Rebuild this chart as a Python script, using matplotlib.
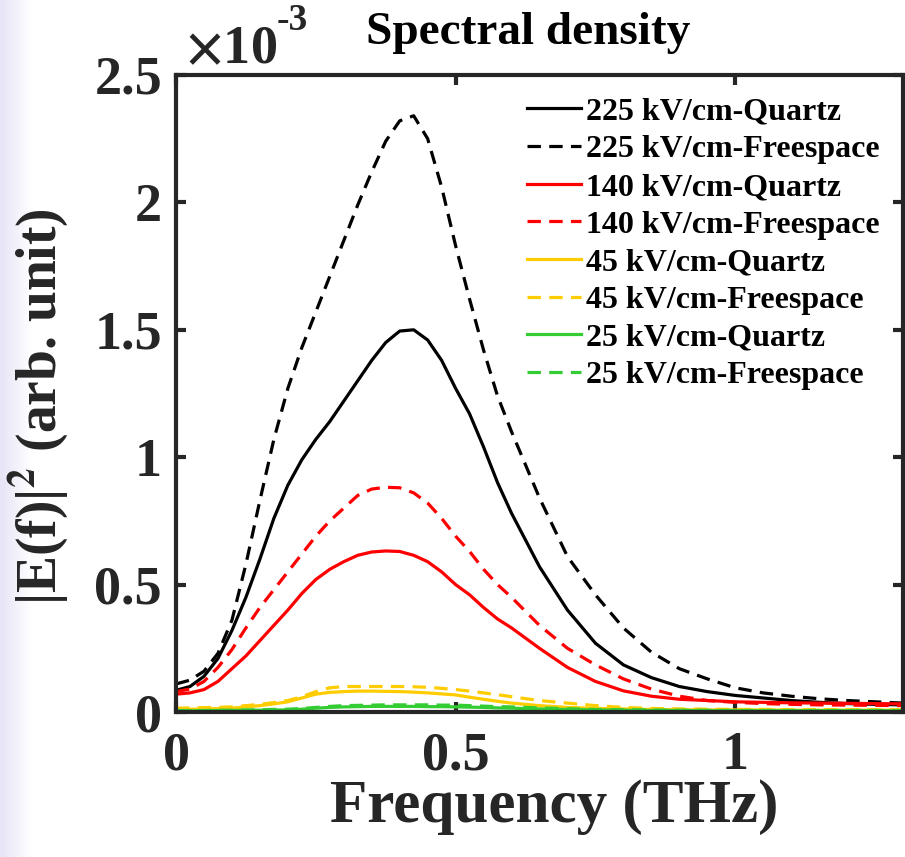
import numpy as np
import matplotlib
matplotlib.use("Agg")
import matplotlib.pyplot as plt

plt.rcParams['font.family'] = ['Liberation Serif', 'DejaVu Serif']
plt.rcParams['font.weight'] = 'bold'
plt.rcParams['mathtext.fontset'] = 'stix'

# frequency grid (THz) and spectral density (x1e-3, arb. unit)
freq = [0, 0.025, 0.05, 0.075, 0.1, 0.125, 0.15, 0.175, 0.2, 0.225, 0.25, 0.275,
        0.3, 0.325, 0.35, 0.375, 0.4, 0.425, 0.45, 0.475, 0.5, 0.525, 0.55, 0.575,
        0.6, 0.65, 0.7, 0.75, 0.8, 0.85, 0.9, 0.95, 1.0, 1.05, 1.1, 1.15, 1.2, 1.25, 1.3]

q225 = [0.085, 0.10, 0.14, 0.21, 0.32, 0.45, 0.60, 0.76, 0.89, 0.99, 1.07, 1.14,
        1.22, 1.30, 1.38, 1.45, 1.495, 1.50, 1.46, 1.38, 1.27, 1.17, 1.04, 0.90,
        0.78, 0.57, 0.40, 0.27, 0.185, 0.135, 0.10, 0.08, 0.065, 0.055, 0.045, 0.038, 0.033, 0.030, 0.028]
fs225 = [0.11, 0.125, 0.16, 0.23, 0.36, 0.58, 0.83, 1.07, 1.27, 1.43, 1.57, 1.71,
         1.85, 1.99, 2.12, 2.24, 2.32, 2.34, 2.25, 2.06, 1.83, 1.62, 1.42, 1.24,
         1.10, 0.84, 0.61, 0.46, 0.33, 0.235, 0.17, 0.13, 0.095, 0.075, 0.062, 0.052, 0.045, 0.040, 0.035]
q140 = [0.07, 0.075, 0.088, 0.12, 0.17, 0.22, 0.28, 0.34, 0.40, 0.465, 0.52, 0.56,
        0.59, 0.615, 0.628, 0.632, 0.63, 0.615, 0.59, 0.55, 0.50, 0.46, 0.41, 0.365,
        0.33, 0.25, 0.175, 0.12, 0.083, 0.062, 0.05, 0.045, 0.04, 0.038, 0.036, 0.035, 0.034, 0.033, 0.032]
fs140 = [0.08, 0.09, 0.12, 0.175, 0.245, 0.33, 0.41, 0.48, 0.55, 0.62, 0.69, 0.75,
         0.80, 0.85, 0.875, 0.882, 0.88, 0.86, 0.82, 0.76, 0.69, 0.63, 0.56, 0.50,
         0.45, 0.34, 0.25, 0.185, 0.13, 0.09, 0.062, 0.045, 0.038, 0.033, 0.030, 0.028, 0.027, 0.026, 0.025]
q45 = [0.01, 0.011, 0.012, 0.013, 0.015, 0.02, 0.025, 0.032, 0.04, 0.055, 0.07, 0.077,
       0.08, 0.082, 0.082, 0.081, 0.08, 0.078, 0.075, 0.071, 0.067, 0.058, 0.05, 0.042,
       0.035, 0.025, 0.018, 0.014, 0.012, 0.01, 0.009, 0.008, 0.008, 0.008, 0.007, 0.007, 0.007, 0.007, 0.007]
fs45 = [0.015, 0.016, 0.017, 0.018, 0.02, 0.025, 0.03, 0.037, 0.045, 0.06, 0.08, 0.095,
        0.10, 0.10, 0.10, 0.10, 0.10, 0.099, 0.097, 0.093, 0.088, 0.082, 0.075, 0.068,
        0.06, 0.045, 0.035, 0.025, 0.018, 0.014, 0.012, 0.011, 0.01, 0.01, 0.009, 0.009, 0.009, 0.009, 0.009]
q25 = [0.005, 0.005, 0.005, 0.006, 0.006, 0.007, 0.007, 0.008, 0.008, 0.011, 0.015, 0.018,
       0.02, 0.021, 0.022, 0.022, 0.022, 0.022, 0.021, 0.021, 0.02, 0.019, 0.018, 0.016,
       0.015, 0.012, 0.01, 0.008, 0.007, 0.006, 0.006, 0.005, 0.005, 0.005, 0.005, 0.005, 0.005, 0.005, 0.005]
fs25 = [0.006, 0.006, 0.006, 0.007, 0.007, 0.008, 0.009, 0.01, 0.011, 0.014, 0.018, 0.022,
        0.025, 0.026, 0.027, 0.028, 0.028, 0.028, 0.028, 0.027, 0.027, 0.025, 0.023, 0.021,
        0.02, 0.016, 0.013, 0.01, 0.009, 0.008, 0.007, 0.007, 0.006, 0.006, 0.006, 0.006, 0.006, 0.006, 0.006]

labels = ["225 kV/cm-Quartz", "225 kV/cm-Freespace", "140 kV/cm-Quartz", "140 kV/cm-Freespace",
          "45 kV/cm-Quartz", "45 kV/cm-Freespace", "25 kV/cm-Quartz", "25 kV/cm-Freespace"]
series = [q225, fs225, q140, fs140, q45, fs45, q25, fs25]
colors = ['black', 'black', '#ff0000', '#ff0000', '#ffcc00', '#ffcc00', '#33cc33', '#33cc33']
styles = ['-', '--', '-', '--', '-', '--', '-', '--']

fig = plt.figure(figsize=(9.05, 8.57), dpi=100)

# faint lavender strip at the left edge of the image
bg = fig.add_axes([0, 0, 0.035, 1], zorder=-1)
grad = np.linspace(0, 1, 64).reshape(1, -1)
bg.imshow(grad, aspect='auto', cmap=matplotlib.colors.LinearSegmentedColormap.from_list(
    'lav', ['#e6e4f6', '#ffffff']), extent=[0, 1, 0, 1])
bg.axis('off')

ax = fig.add_axes([176 / 905, 1 - 712 / 857, 727 / 905, 637 / 857])
for y, lab, c, ls in zip(series, labels, colors, styles):
    line, = ax.plot(freq, y, color=c, linestyle=ls, linewidth=2.3, label=lab)
    if ls == '--':
        line.set_dashes((4.2, 2.6))

ax.set_xlim(0, 1.3)
ax.set_ylim(0, 2.5)
ax.set_xticks([0, 0.5, 1])
ax.set_xticklabels(['0', '0.5', '1'])
ax.set_yticks([0, 0.5, 1, 1.5, 2, 2.5])
ax.set_yticklabels(['0', '0.5', '1', '1.5', '2', '2.5'])

axcol = '#262626'
for s in ax.spines.values():
    s.set_linewidth(3)
    s.set_color(axcol)
ax.tick_params(direction='in', top=True, right=True, length=7, width=3,
               labelsize=39, colors=axcol)
ax.tick_params(axis='x', pad=14)
ax.tick_params(axis='y', pad=10)

ax.set_xlabel('Frequency (THz)', fontsize=44, fontweight='bold', color=axcol)
ax.xaxis.set_label_coords(0.52, -0.105)
ax.set_ylabel(r'|E(f)|$^{\mathbf{2}}$ (arb. unit)', fontsize=40, fontweight='bold', color=axcol)
ax.yaxis.set_label_coords(-0.145, 0.48)
ax.set_title('Spectral density', fontsize=34, fontweight='bold', pad=22, x=0.485)

ax.text(0.012, 1.019, r'$\times$10', transform=ax.transAxes, fontsize=39,
        fontweight='bold', color=axcol, va='baseline', ha='left')
ax.text(0.138, 1.07, '-3', transform=ax.transAxes, fontsize=27,
        fontweight='bold', color=axcol, va='baseline', ha='left')

ax.legend(loc='upper left', bbox_to_anchor=(0.483, 0.965), frameon=False,
          handlelength=1.7, handletextpad=0.15, labelspacing=0.26,
          borderpad=0, borderaxespad=0, prop={'weight': 'bold', 'size': 23})

fig.savefig('out.png', dpi=100)
